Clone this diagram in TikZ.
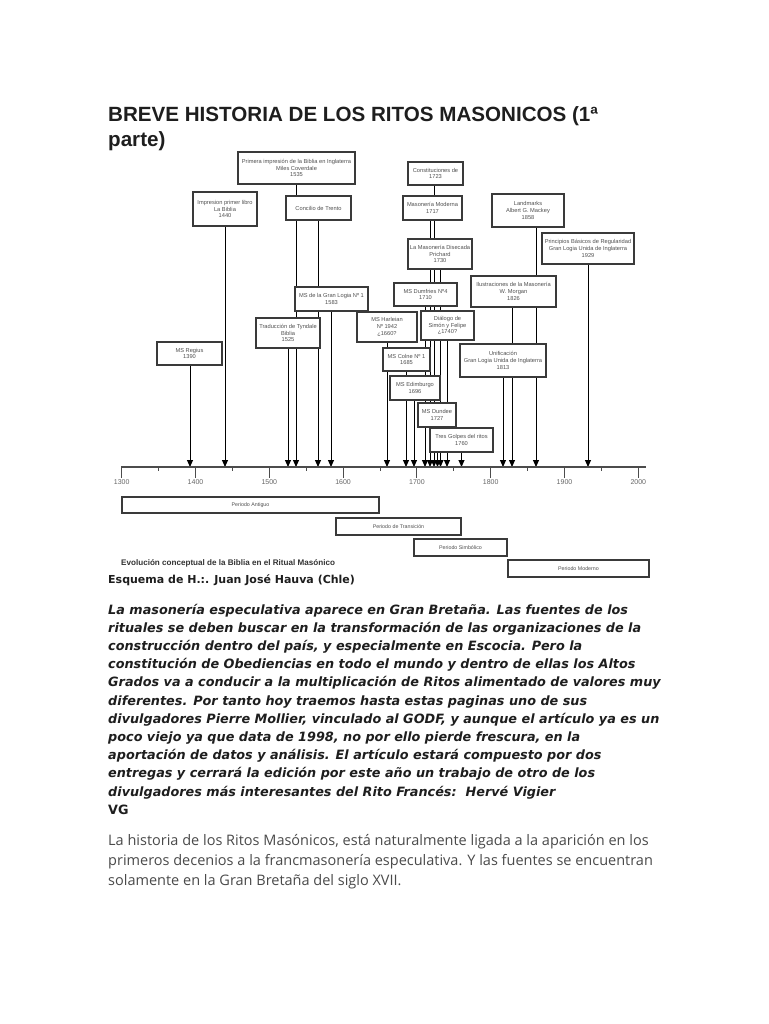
\documentclass[tikz,border=0pt]{standalone}
\usepackage{fontspec}
\setmainfont{Liberation Sans}
\newfontfamily\dvsans{DejaVu Sans}
\newfontfamily\osans{Open Sans}
\usetikzlibrary{arrows.meta}
\pgfdeclarelayer{back}
\pgfdeclarelayer{bg}
\pgfsetlayers{back,bg,main}
\definecolor{boxline}{HTML}{3A3A3A}
\definecolor{boxtext}{HTML}{505050}
\definecolor{bodytext}{HTML}{1E1E1E}
\definecolor{graytext}{HTML}{4A4A4A}
\tikzset{
  evbox/.style={draw=boxline, fill=white, line width=1.1pt, inner sep=0pt, align=center,
    text=boxtext, font=\fontsize{5.7}{6.8}\selectfont},
  perbox/.style={draw=boxline, fill=white, line width=1.1pt, inner sep=0pt, align=center,
    text=boxtext, font=\fontsize{5.3}{6}\selectfont},
  evarrow/.style={draw=black, line width=1pt, -{Triangle[length=7pt,width=6pt]}},
  axisline/.style={draw=black!70, line width=1.3pt},
  yearlab/.style={text=black!60, font=\fontsize{7}{8}\selectfont, inner sep=0pt},
  titletext/.style={anchor=base west, inner sep=0pt, text=bodytext, font=\fontsize{20.6}{24}\selectfont\bfseries},
  bitext/.style={anchor=base west, inner sep=0pt, text=bodytext, font=\dvsans\fontsize{12.8}{14}\selectfont\bfseries\itshape},
  grtext/.style={anchor=base west, inner sep=0pt, text=graytext, font=\osans\fontsize{14.5}{16}\selectfont},
}
\begin{document}
\begin{tikzpicture}[x=1pt,y=-1pt]
\begin{pgfonlayer}{back}
\useasboundingbox[fill=white] (0,0) rectangle (768,1024);
\end{pgfonlayer}

% ---------- title ----------
\node[titletext] (title1) at (108,122) {BREVE HISTORIA DE LOS RITOS MASONICOS (1ª};
\node[titletext] (title2) at (108,147) {parte)};

% ---------- event boxes ----------
\node[evbox, minimum width=117pt, minimum height=32pt] (coverdale) at (296.5,168) {Primera impresión de la Biblia en Inglaterra\\Miles Coverdale\\1535};
\node[evbox, minimum width=64pt, minimum height=34pt] (imp1440) at (225,209) {Impresion primer libro\\La Biblia\\1440};
\node[evbox, minimum width=65pt, minimum height=24pt] (trento) at (318.5,208) {Concilio de Trento};
\node[evbox, minimum width=73pt, minimum height=24pt] (granlogia) at (331.5,299) {MS de la Gran Logia Nº 1\\1583};
\node[evbox, minimum width=64pt, minimum height=30pt] (tyndale) at (288,333) {Traducción de Tyndale\\Biblia\\1525};
\node[evbox, minimum width=65pt, minimum height=23pt] (regius) at (189.5,353.5) {MS Regius\\1390};
\node[evbox, minimum width=55pt, minimum height=23pt] (constit) at (435.5,173.5) {Constituciones de\\1723};
\node[evbox, minimum width=59pt, minimum height=24pt] (moderna) at (432.5,208) {Masonería Moderna\\1717};
\node[evbox, minimum width=64pt, minimum height=30pt] (prichard) at (440,254) {La Masonería Disecada\\Prichard\\1730};
\node[evbox, minimum width=63pt, minimum height=23pt] (dumfries) at (425.5,294.5) {MS Dumfries Nº4\\1710};
\node[evbox, minimum width=53pt, minimum height=29pt] (dialogo) at (447.5,325.5) {Diálogo de\\Simón y Felipe\\¿1740?};
\node[evbox, minimum width=60pt, minimum height=30pt] (harleian) at (387,327) {MS Harleian\\Nº 1942\\¿1660?};
\node[evbox, minimum width=47pt, minimum height=23pt] (colne) at (406.5,359.5) {MS Colne Nº 1\\1685};
\node[evbox, minimum width=50pt, minimum height=24pt] (edimburgo) at (415,388) {MS Edimburgo\\1696};
\node[evbox, minimum width=38pt, minimum height=24pt] (dundee) at (437,415) {MS Dundee\\1727};
\node[evbox, minimum width=63pt, minimum height=24pt] (tresgolpes) at (461.5,440) {Tres Golpes del ritos\\1760};
\node[evbox, minimum width=86pt, minimum height=33pt] (unificacion) at (503,360.5) {Unificación\\Gran Logia Unida de Inglaterra\\1813};
\node[evbox, minimum width=85pt, minimum height=31pt] (morgan) at (513.5,291.5) {Ilustraciones de la Masonería\\W. Morgan\\1826};
\node[evbox, minimum width=72pt, minimum height=33pt] (landmarks) at (528,210.5) {Landmarks\\Albert G. Mackey\\1858};
\node[evbox, minimum width=92pt, minimum height=31pt] (principios) at (588,248.5) {Principios Básicos de Regularidad\\Gran Logia Unida de Inglaterra\\1929};

% ---------- axis ----------
\coordinate (axL) at (121,467);
\coordinate (axR) at (646,467);
\draw[axisline] (axL) -- (axR);
\foreach \k/\yr in {0/1300,1/1400,2/1500,3/1600,4/1700,5/1800,6/1900,7/2000}{
  \pgfmathsetmacro{\tx}{121.7+\k*73.8}
  \draw[axisline, line width=1pt] (\tx,467) -- ++(0,11);
  \node[yearlab] (y\yr) at (\tx,482) {\yr};
}
\foreach \k in {0,...,6}{
  \pgfmathsetmacro{\mx}{158.6+\k*73.8}
  \draw[axisline, line width=0.8pt] (\mx,467) -- ++(0,4);
}

% ---------- arrow targets on the axis ----------
\foreach \nm/\xx in {t1390/190,t1440/225,t1525/288,t1535/296,t1563/318,t1583/331,
  t1660/387,t1685/406,t1696/414,t1710/425,t1717/430,t1723/434,t1727/437.5,t1730/440.5,
  t1740/447,t1760/461.5,t1813/503,t1826/512,t1858/536,t1929/588}{
  \coordinate (\nm) at (\xx,467);
}

\begin{pgfonlayer}{bg}
\foreach \bx/\tg in {regius/t1390,imp1440/t1440,tyndale/t1525,coverdale/t1535,trento/t1563,
  granlogia/t1583,harleian/t1660,colne/t1685,edimburgo/t1696,dumfries/t1710,moderna/t1717,
  constit/t1723,dundee/t1727,prichard/t1730,dialogo/t1740,tresgolpes/t1760,unificacion/t1813,
  morgan/t1826,landmarks/t1858,principios/t1929}{
  \draw[evarrow] (\bx.south -| \tg) -- (\tg);
}
\end{pgfonlayer}

% ---------- period bars ----------
\node[perbox, minimum width=257pt, minimum height=16pt] (antiguo) at (250.5,505) {Periodo Antiguo};
\node[perbox, minimum width=125pt, minimum height=17pt] (transicion) at (398.5,526.5) {Periodo de Transición};
\node[perbox, minimum width=93pt, minimum height=17pt] (simbolico) at (460.5,547.5) {Periodo Simbólico};
\node[perbox, minimum width=141pt, minimum height=17pt] (modernop) at (578.5,568.5) {Periodo Moderno};

\node[anchor=west, inner sep=0pt, text=black!80, font=\fontsize{8.1}{9}\selectfont\bfseries] (caption) at (121,563) {Evolución conceptual de la Biblia en el Ritual Masónico};
\node[anchor=base west, inner sep=0pt, text=bodytext, font=\dvsans\fontsize{11}{13}\selectfont\bfseries] (esquema) at (108,583) {Esquema de H.:. Juan José Hauva (Chle)};

% ---------- bold italic paragraph ----------
\node[bitext] (p1) at (108,614) {La masonería especulativa aparece en Gran Bretaña. Las fuentes de los};
\node[bitext] (p2) at (108,632.2) {rituales se deben buscar en la transformación de las organizaciones de la};
\node[bitext] (p3) at (108,650.4) {construcción dentro del país, y especialmente en Escocia. Pero la};
\node[bitext] (p4) at (108,668.6) {constitución de Obediencias en todo el mundo y dentro de ellas los Altos};
\node[bitext] (p5) at (108,686.8) {Grados va a conducir a la multiplicación de Ritos alimentado de valores muy};
\node[bitext] (p6) at (108,705) {diferentes. Por tanto hoy traemos hasta estas paginas uno de sus};
\node[bitext] (p7) at (108,723.2) {divulgadores Pierre Mollier, vinculado al GODF, y aunque el artículo ya es un};
\node[bitext] (p8) at (108,741.4) {poco viejo ya que data de 1998, no por ello pierde frescura, en la};
\node[bitext] (p9) at (108,759.6) {aportación de datos y análisis. El artículo estará compuesto por dos};
\node[bitext] (p10) at (108,777.8) {entregas y cerrará la edición por este año un trabajo de otro de los};
\node[bitext] (p11) at (108,796) {divulgadores más interesantes del Rito Francés:\ \ Hervé Vigier};
\node[bitext, font=\dvsans\fontsize{12.8}{14}\selectfont\bfseries] (p12) at (108,814.2) {VG};

% ---------- plain paragraph ----------
\node[grtext] (q1) at (108,845) {La historia de los Ritos Masónicos, está naturalmente ligada a la aparición en los};
\node[grtext] (q2) at (108,865) {primeros decenios a la francmasonería especulativa. Y las fuentes se encuentran};
\node[grtext] (q3) at (108,885) {solamente en la Gran Bretaña del siglo XVII.};
\end{tikzpicture}
\end{document}
